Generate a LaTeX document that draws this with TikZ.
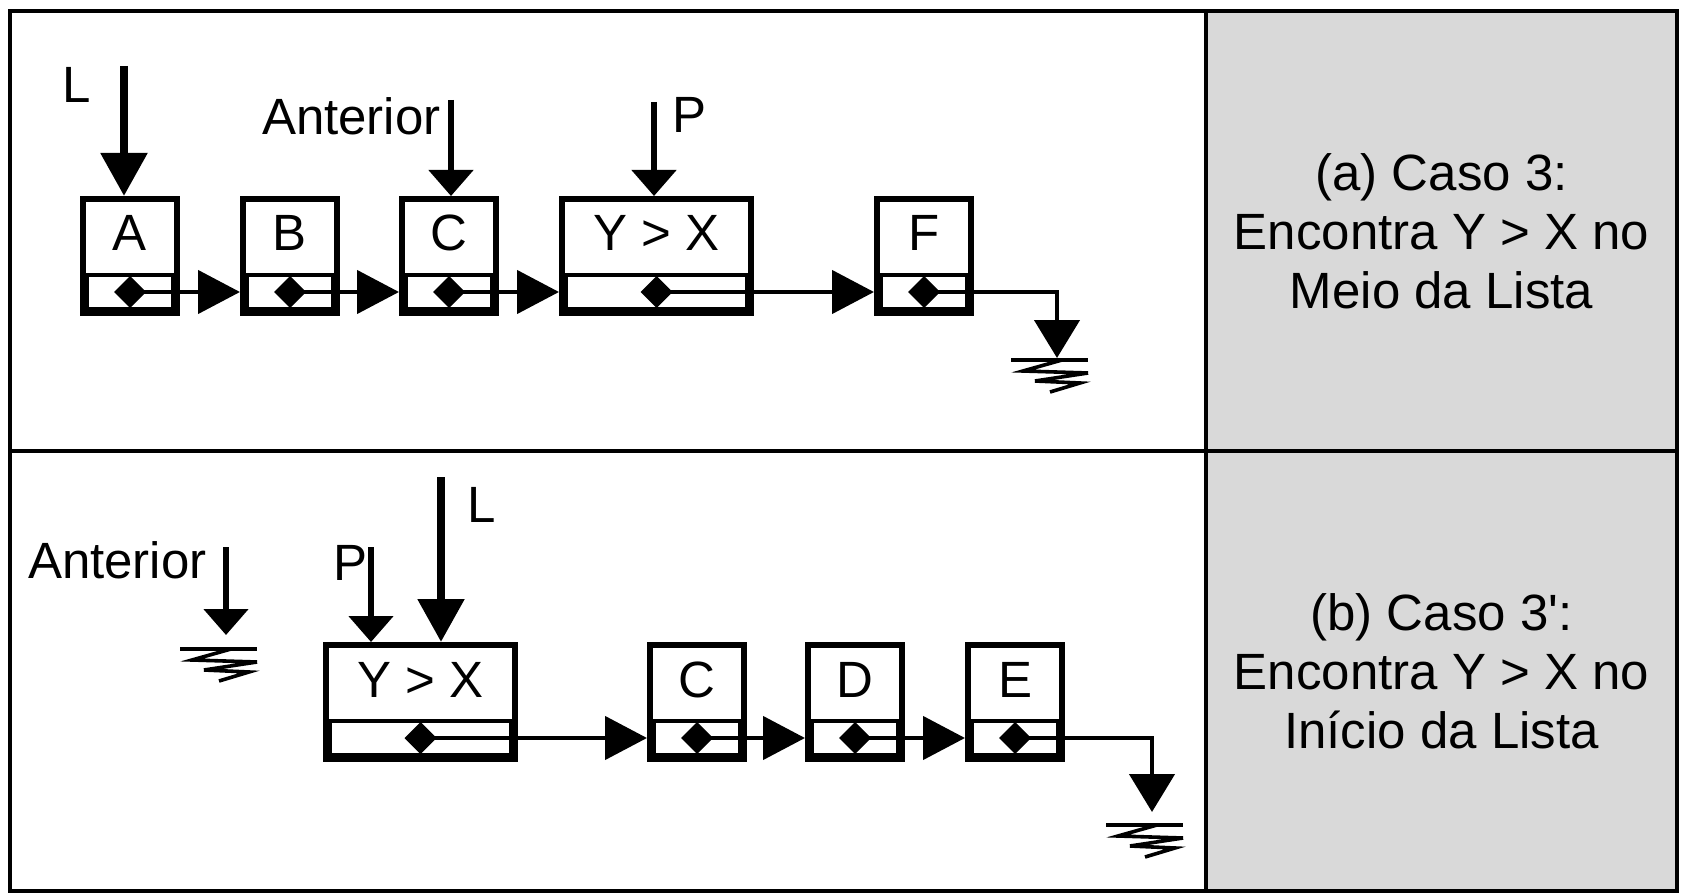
\documentclass[tikz,border=0pt]{standalone}
\usepackage{fontspec}
\setmainfont{Liberation Sans}
\usetikzlibrary{arrows.meta,positioning,calc}

\begin{document}
\begin{tikzpicture}[
		x=0.5pt, y=-0.5pt,
		every node/.style={font=\fontsize{25.5pt}{29.5pt}\selectfont},
		listbox/.style={
			draw, rectangle, line width=3pt, minimum width=#1, minimum height=57pt, inner sep=0pt, text height=10pt, text depth=15pt
		},
		listbox/.default=47pt,
		tag/.style={inner sep=0pt},
		caption/.style={align=center, inner sep=0pt},
		panel/.style={fill={rgb,255:red,217;green,217;blue,217}},
		frame/.style={line width=2pt},
		nxtptr/.style={
			line width=2.3pt, {Diamond[length=16pt,width=16pt]}-{Triangle[length=21pt,width=21.5pt]}
		},
		nilptr/.style={
			line width=2.3pt, {Diamond[length=16pt,width=16pt]}-{Triangle[length=19pt,width=22.5pt]}
		},
		headptr/.style={line width=4.3pt, -{Triangle[length=21.5pt,width=22.5pt]}},
		auxptr/.style={line width=2.6pt, -{Triangle[length=13pt,width=22pt]}},
		ground/.pic={
			\draw[line width=1.8pt] (-46,0) -- (31,0);
			\draw[line width=1.8pt] (5,0) -- (-34,11) -- (31,13) -- (-22,21) -- (23,23) -- (-7,32);
		}
		]
		
		\useasboundingbox (0,0) rectangle (1681,893);
		\fill[panel] (1206,11.5) rectangle (1677,891);
		
		% (a) Caso 3: Y > X no meio da lista
		\node[listbox, anchor=north west] (a) at (80,196) {A};
		\node[listbox, right=30pt of a] (b) {B};
		\node[listbox, right=29.5pt of b] (c) {C};
		\node[listbox=94.5pt, right=30pt of c] (yx) {Y > X};
		\node[listbox, right=60pt of yx] (f) {F};
		
		% (b) Caso 3': Y > X no inicio da lista
		\node[listbox=94.5pt, anchor=north west] (yx2) at (323,642) {Y > X};
		\node[listbox, right=64.5pt of yx2] (c2) {C};
		\node[listbox, right=29pt of c2] (d2) {D};
		\node[listbox, right=30pt of d2] (e2) {E};
		
		% campo do ponteiro de cada no
		\foreach \n in {a,b,c,yx,f,yx2,c2,d2,e2} {
			\draw[line width=2.2pt] ($(\n.south west)+(0,20.5pt)$) -- ($(\n.south east)+(0,20.5pt)$);
			\draw[line width=1.5pt] ($(\n.south west)+(3.75pt,3.75pt)$) rectangle ($(\n.south east)+(-3.75pt,20.5pt)$);
			\coordinate (\n-ptr) at ($(\n.south)+(-8pt,12pt)$);
		}
		
		\foreach \p/\q in {a/b,b/c,c/yx,yx/f,yx2/c2,c2/d2,d2/e2}
			\draw[nxtptr] (\p-ptr) -- (\p-ptr -| \q.west);
		
		% ponteiros nulos (aterramento)
		\coordinate (fNil) at (1057,358);
		\draw[nilptr] (f-ptr) -| (fNil);
		\pic at (1057,360) {ground};
		
		\coordinate (eNil) at (1152,812);
		\draw[nilptr] (e2-ptr) -| (eNil);
		\pic at (1152,825) {ground};
		
		% ponteiros externos de (a)
		\coordinate (lTop) at (124,66);
		\draw[headptr] (lTop) -- (lTop |- a.north);
		\node[tag, anchor=base west] (lLbl) at (62,103) {L};
		
		\coordinate (antTop) at (451,100);
		\draw[auxptr] (antTop) -- (antTop |- c.north);
		\node[tag, anchor=base east] (antLbl) at (441,135) {Anterior};
		
		\coordinate (pTop) at (654,102);
		\draw[auxptr] (pTop) -- (pTop |- yx.north);
		\node[tag, anchor=base west] (pLbl) at (672,133) {P};
		
		% ponteiros externos de (b)
		\coordinate (antTop2) at (226,547);
		\coordinate (antNil) at (226,635);
		\draw[auxptr] (antTop2) -- (antNil);
		\pic at (226,649) {ground};
		\node[tag, anchor=base east] (antLbl2) at (207,578) {Anterior};
		
		\coordinate (pTop2) at (371,547);
		\draw[auxptr] (pTop2) -- (pTop2 |- yx2.north);
		\node[tag, anchor=base west] (pLbl2) at (333,580) {P};
		
		\coordinate (lTop2) at (441,477);
		\draw[headptr] (lTop2) -- (lTop2 |- yx2.north);
		\node[tag, anchor=base west] (lLbl2) at (467,522) {L};
		
		% legendas
		\node[caption] (capA) at (1441.5,231) {(a) Caso 3:\\Encontra Y > X no\\Meio da Lista};
		\node[caption] (capB) at (1441.5,671) {(b) Caso 3\textquotesingle:\\Encontra Y > X no\\Início da Lista};
		
		\draw[frame] (9.5,11.5) rectangle (1677,891);
		\draw[frame] (1206,11.5) -- (1206,891);
		\draw[frame] (9.5,451) -- (1677,451);
	\end{tikzpicture}
\end{document}
